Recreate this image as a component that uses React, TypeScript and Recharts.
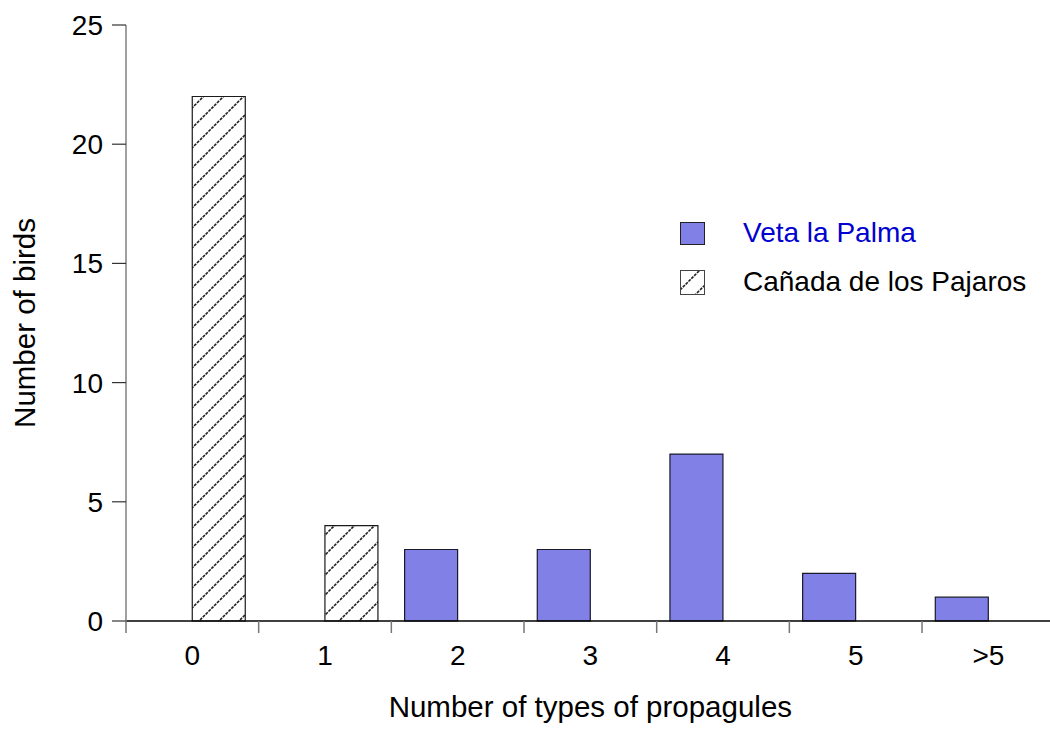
import { Bar, BarChart, XAxis, YAxis } from "recharts";

const categories = ["0", "1", "2", "3", "4", "5", ">5"];
const vetaLaPalma = [0, 0, 3, 3, 7, 2, 1];
const canadaPajaros = [22, 4, 0, 0, 0, 0, 0];
const yTicks = [0, 5, 10, 15, 20, 25];

const seriesNames = ["Veta la Palma", "Cañada de los Pajaros"];

const FONT = '"Liberation Sans", Arial, sans-serif';
const CHART_W = 1060;
const CHART_H = 729;
const MARGIN = { top: 25, right: 5.3, left: 0, bottom: 0 };
const Y_AXIS_W = 126;
const X_AXIS_H = 108;
const X_TICK_SIZE = 12;
const X_TICK_MARGIN = 12;
const PLOT_W = CHART_W - MARGIN.right - MARGIN.left - Y_AXIS_W;

const BLUE = "#8080e6";

const chartData = categories.map((name, i) => ({
  name,
  veta: vetaLaPalma[i],
  canada: canadaPajaros[i]
}));

// category labels sit mid-band, tick marks go on the band edges
function CategoryTick(props: any) {
  const { x, y, payload } = props;
  const half =
    payload && typeof payload.offset === "number" && payload.offset > 0
      ? payload.offset
      : PLOT_W / categories.length / 2;
  const axisY = y - X_TICK_SIZE - X_TICK_MARGIN;
  return (
    <g>
      <line x1={x - half} y1={axisY} x2={x - half} y2={axisY + X_TICK_SIZE} stroke="#777" strokeWidth={1.5} />
      <text x={x} y={y} dy="0.71em" textAnchor="middle" fontSize={28} fill="#000" fontFamily={FONT}>
        {payload.value}
      </text>
    </g>
  );
}

function HatchPattern({ id }: { id: string }) {
  return (
    <pattern id={id} patternUnits="userSpaceOnUse" width={20} height={20}>
      <rect width={20} height={20} fill="#fff" />
      <path d="M-5,5 L5,-5 M0,20 L20,0 M15,25 L25,15" stroke="#222" strokeWidth={1.6} strokeDasharray="3 1" />
    </pattern>
  );
}

export default function App() {
  return (
    <div
      style={{
        position: "absolute",
        left: 0,
        top: 0,
        width: 1050,
        height: 729,
        overflow: "hidden",
        background: "#fff",
        fontFamily: FONT
      }}
    >
      <BarChart
        width={CHART_W}
        height={CHART_H}
        data={chartData}
        margin={MARGIN}
        barCategoryGap="10%"
        barGap={0}
      >
        <defs>
          <HatchPattern id="hatch" />
        </defs>
        <XAxis
          dataKey="name"
          height={X_AXIS_H}
          axisLine={{ stroke: "#000", strokeWidth: 1.5 }}
          tickLine={false}
          tickSize={X_TICK_SIZE}
          tickMargin={X_TICK_MARGIN}
          tick={<CategoryTick />}
          interval={0}
          label={{
            value: "Number of types of propagules",
            position: "insideBottom",
            offset: 12,
            style: { fontSize: 29.5, fill: "#000", fontFamily: FONT }
          }}
        />
        <YAxis
          width={Y_AXIS_W}
          domain={[0, 25]}
          ticks={yTicks}
          interval={0}
          axisLine={{ stroke: "#808080", strokeWidth: 1.5 }}
          tickLine={{ stroke: "#333", strokeWidth: 1.2 }}
          tickSize={14}
          tickMargin={9}
          tick={{ fontSize: 28, fill: "#000", fontFamily: FONT }}
          label={{
            value: "Number of birds",
            position: "insideLeft",
            angle: -90,
            offset: 25,
            style: { fontSize: 29.5, fill: "#000", fontFamily: FONT, textAnchor: "middle" }
          }}
        />
        <Bar dataKey="veta" name={seriesNames[0]} fill={BLUE} stroke="#1a1a2a" strokeWidth={1.2} isAnimationActive={false} />
        <Bar dataKey="canada" name={seriesNames[1]} fill="url(#hatch)" stroke="#1a1a1a" strokeWidth={1.2} isAnimationActive={false} />
      </BarChart>

      <div style={{ position: "absolute", left: 680, top: 218 }}>
        <div style={{ display: "flex", alignItems: "center", height: 30 }}>
          <div style={{ width: 25, height: 23, background: BLUE, border: "1px solid #222", boxSizing: "border-box" }} />
          <span style={{ marginLeft: 38, fontSize: 28, color: "#0000d0" }}>{seriesNames[0]}</span>
        </div>
        <div style={{ display: "flex", alignItems: "center", height: 30, marginTop: 19 }}>
          <svg width={25} height={25}>
            <defs>
              <HatchPattern id="hatch-legend" />
            </defs>
            <rect x={0.5} y={0.5} width={24} height={24} fill="url(#hatch-legend)" stroke="#444" />
          </svg>
          <span style={{ marginLeft: 38, fontSize: 28, color: "#000" }}>{seriesNames[1]}</span>
        </div>
      </div>
    </div>
  );
}
